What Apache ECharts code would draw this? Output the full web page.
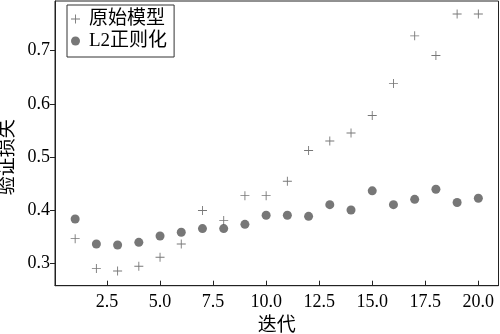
<!DOCTYPE html>
<html><head><meta charset="utf-8">
<script src="https://cdn.jsdelivr.net/npm/echarts@6/dist/echarts.min.js"></script>
<style>html,body{margin:0;padding:0;background:#fff}#c{width:500px;height:334px}</style>
</head><body><div id="c"></div>
<script>
const iterations = [1,2,3,4,5,6,7,8,9,10,11,12,13,14,15,16,17,18,19,20];
const originalLoss = [0.346,0.290,0.285,0.294,0.311,0.336,0.399,0.380,0.427,0.427,0.454,0.512,0.530,0.545,0.578,0.638,0.728,0.691,0.769,0.769];
const l2Loss = [0.383,0.336,0.334,0.339,0.351,0.358,0.365,0.365,0.373,0.390,0.390,0.388,0.410,0.400,0.436,0.410,0.420,0.439,0.414,0.422];
const xTicks = [2.5,5,7.5,10,12.5,15,17.5,20];
const yTicks = [0.3,0.4,0.5,0.6,0.7];
const seriesNames = ['原始模型','L2正则化'];

const FONT = 'Liberation Serif, Times New Roman, Noto Sans CJK SC, serif';
const plusPath = 'path://M0,3.6h8v0.8h-8z M3.6,0h0.8v8h-0.8z';
const chart = echarts.init(document.getElementById('c'));
chart.setOption({
  animation:false,
  backgroundColor:'#fff',
  grid:{left:55,right:1.5,top:1,bottom:48.3,containLabel:false,outerBoundsMode:'none',show:true,borderColor:'#222',borderWidth:1},
  legend:{
    orient:'vertical', left:67, top:5,
    padding:[4,7,6,4], itemGap:2,
    borderColor:'#333', borderWidth:1, borderRadius:0,
    itemWidth:17, itemHeight:9,
    textStyle:{fontFamily:FONT,fontSize:19,lineHeight:20,color:'#000'},
    data:[{name:seriesNames[0],icon:plusPath},{name:seriesNames[1],icon:'circle'}]
  },
  xAxis:{
    type:'value', min:0.05, max:20.95,
    name:'迭代', nameLocation:'middle', nameGap:31, nameMoveOverlap:false,
    nameTextStyle:{fontFamily:FONT,fontSize:19,color:'#000'},
    axisLine:{lineStyle:{color:'#222',width:1}},
    axisTick:{inside:true,length:5,customValues:xTicks,lineStyle:{color:'#222'}},
    axisLabel:{customValues:xTicks,fontFamily:FONT,fontSize:18,color:'#000',margin:8,formatter:v=>v.toFixed(1)},
    splitLine:{show:false}
  },
  yAxis:{
    type:'value', min:0.2574, max:0.7936,
    name:'验证损失', nameLocation:'middle', nameGap:37, nameRotate:90, nameMoveOverlap:false,
    nameTextStyle:{fontFamily:FONT,fontSize:19,color:'#000',padding:[0,28,0,0]},
    axisLine:{lineStyle:{color:'#222',width:1}},
    axisTick:{inside:false,length:5,customValues:yTicks,lineStyle:{color:'#222'}},
    axisLabel:{customValues:yTicks,fontFamily:FONT,fontSize:18,color:'#000',margin:5,formatter:v=>v.toFixed(1)},
    splitLine:{show:false}
  },
  series:[
    {name:seriesNames[0],type:'scatter',symbol:plusPath,symbolSize:9,
     itemStyle:{color:'#555'},data:iterations.map((x,i)=>[x,originalLoss[i]])},
    {name:seriesNames[1],type:'scatter',symbol:'circle',symbolSize:9,
     itemStyle:{color:'#555'},data:iterations.map((x,i)=>[x,l2Loss[i]])}
  ]
});
</script></body></html>
